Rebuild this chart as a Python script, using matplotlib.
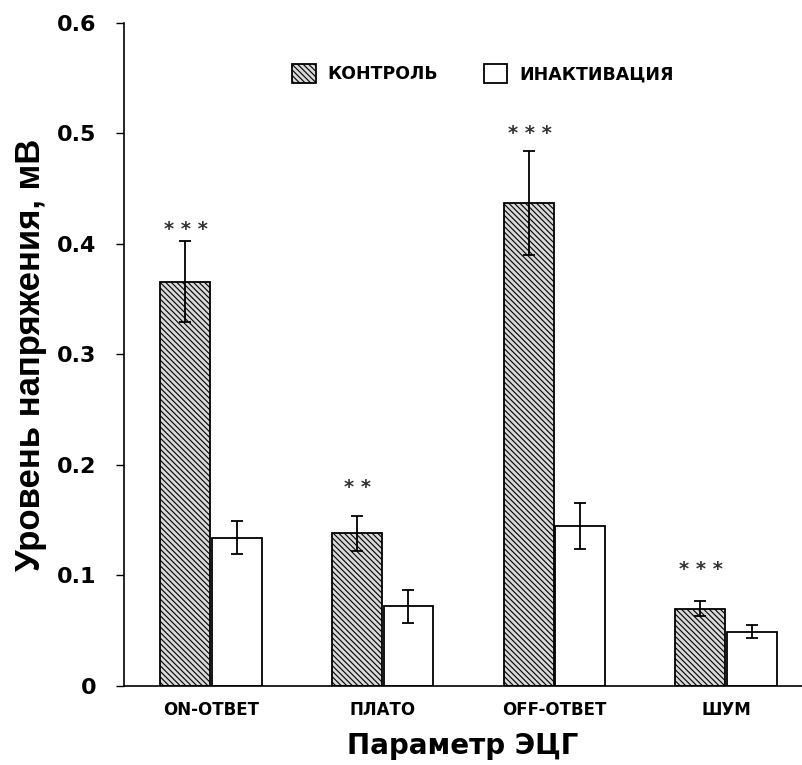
import numpy as np
import matplotlib
matplotlib.use('Agg')
import matplotlib.pyplot as plt

categories = ['ON-ОТВЕТ', 'ПЛАТО', 'OFF-ОТВЕТ', 'ШУМ']
control = [0.366, 0.138, 0.437, 0.070]
control_err = [0.037, 0.016, 0.047, 0.0065]
inactivation = [0.134, 0.072, 0.145, 0.049]
inactivation_err = [0.015, 0.015, 0.021, 0.006]
stars = ['***', '**', '***', '***']
star_y = [0.413, 0.180, 0.500, 0.105]

plt.rcParams['hatch.color'] = '#adadad'
plt.rcParams['hatch.linewidth'] = 0.8

fig = plt.figure(figsize=(8.02, 7.65), dpi=100)
ax = fig.add_axes([0.1546, 0.1033, 0.8454, 0.8667])

x = np.arange(len(categories))
w = 0.29
err_kw = dict(ecolor='black', elinewidth=1.3, capsize=4.5, capthick=1.3)
ax.bar(x - w / 2 - 0.005, control, w, yerr=control_err, color='#d8d8d8',
       edgecolor='black', linewidth=1.3, hatch='\\' * 6, label='КОНТРОЛЬ',
       error_kw=err_kw)
ax.bar(x + w / 2 + 0.005, inactivation, w, yerr=inactivation_err, color='white',
       edgecolor='black', linewidth=1.3, label='ИНАКТИВАЦИЯ', error_kw=err_kw)

for i, s in enumerate(stars):
    ax.text(x[i] - w / 2, star_y[i], ' '.join(s), ha='center', va='center',
            fontsize=14, fontweight='bold', color='#333333')

ax.set_xlim(-0.507, 3.442)
ax.set_ylim(0, 0.6)
ax.set_yticks([0, 0.1, 0.2, 0.3, 0.4, 0.5, 0.6])
ax.set_yticklabels(['0', '0.1', '0.2', '0.3', '0.4', '0.5', '0.6'],
                   fontsize=16, fontweight='bold', family='DejaVu Sans')
ax.set_xticks(x)
ax.set_xticklabels(categories, fontsize=12, fontweight='bold', family='DejaVu Sans')
ax.tick_params(axis='x', length=0, pad=11)
ax.tick_params(axis='y', length=6, width=1, direction='out', pad=14)

for side in ['top', 'right']:
    ax.spines[side].set_visible(False)
ax.spines['left'].set_linewidth(1.2)
ax.spines['bottom'].set_linewidth(1.2)

ax.set_ylabel('Уровень напряжения, мВ', fontsize=25, fontweight='bold',
              family='Liberation Sans', labelpad=7)
ax.set_xlabel('Параметр ЭЦГ', fontsize=20, fontweight='bold',
              family='DejaVu Sans', labelpad=9)

ax.legend(loc='upper left', bbox_to_anchor=(0.225, 0.962), ncol=2, frameon=False,
          prop={'family': 'DejaVu Sans', 'weight': 'bold', 'size': 12.5},
          handlelength=1.35, handleheight=1.3, columnspacing=2.6, handletextpad=0.7)

fig.savefig('out.png', dpi=100)
